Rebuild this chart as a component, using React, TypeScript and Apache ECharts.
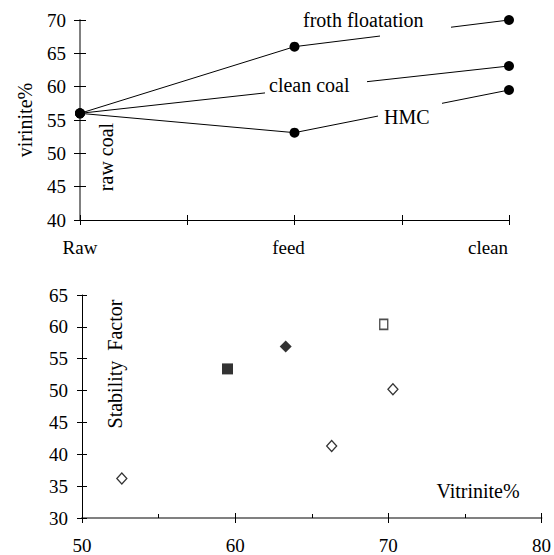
import React, { useEffect, useRef } from "react";
import * as echarts from "echarts";

// ---- Top chart data ----
const stageLabels = ["Raw", "feed", "clean"];
const stagePositions = [0, 1, 2];
const frothValues = [56, 66, 70];
const hmcValues = [56, 53.1, 59.5];
const cleanCoalStages = [0, 2];
const cleanCoalValues = [56, 63.1];
const topYTicks = [40, 70, 5]; // min, max, interval

// ---- Bottom chart data ----
const openDiamondX = [52.6, 66.3, 70.3];
const openDiamondY = [36.2, 41.3, 50.2];
const filledSquareX = [59.5];
const filledSquareY = [53.4];
const filledDiamondX = [63.3];
const filledDiamondY = [56.9];
const openSquareX = [69.7];
const openSquareY = [60.4];

const FONT = "'Liberation Serif', 'Times New Roman', serif";

const pairs = (xs: number[], ys: number[]) => xs.map((x, i) => [x, ys[i]]);

export default function App() {
  const ref = useRef<HTMLDivElement>(null);
  useEffect(() => {
    if (!ref.current) return;
    const chart = echarts.init(ref.current, null, { renderer: "svg" });
    const labelStyle = { color: "#000", fontFamily: FONT, fontSize: 19 };
    const textStyle = { fontFamily: FONT, fontSize: 20, fill: "#000" };
    const option: any = {
      animation: false,
      backgroundColor: "#fff",
      textStyle: { fontFamily: FONT, color: "#000" },
      grid: [
        { left: 80, top: 20, width: 429, height: 200 },
        { left: 82, top: 295, width: 461, height: 223 },
      ],
      xAxis: [
        {
          gridIndex: 0, type: "value", position: "bottom", min: 0, max: 2, interval: 0.5,
          axisLine: { lineStyle: { color: "#000", width: 1 } },
          axisTick: { length: 5, lineStyle: { color: "#000" } },
          splitLine: { show: false },
          axisLabel: {
            ...labelStyle, margin: 18,
            formatter: (v: number) => {
              const i = stagePositions.indexOf(v);
              if (i < 0) return "";
              return "{s" + i + "|" + stageLabels[i] + "}";
            },
            rich: {
              s0: { ...labelStyle },
              s1: { ...labelStyle, padding: [0, 12, 0, 0] },
              s2: { ...labelStyle, padding: [0, 42, 0, 0] },
            },
          },
        },
        {
          gridIndex: 0, type: "value", position: "bottom", min: 0, max: 2, interval: 0.5,
          axisLine: { show: false },
          axisTick: { inside: true, length: 5, lineStyle: { color: "#000" } },
          splitLine: { show: false },
          axisLabel: { show: false },
        },
        {
          gridIndex: 1, type: "value", position: "bottom", min: 50, max: 80, interval: 10,
          axisLine: { lineStyle: { color: "#808080", width: 2 } },
          axisTick: { length: 5, lineStyle: { color: "#000" } },
          splitLine: { show: false },
          axisLabel: { ...labelStyle, margin: 18 },
        },
        {
          gridIndex: 1, type: "value", position: "bottom", min: 50, max: 80, interval: 10,
          axisLine: { show: false },
          axisTick: { inside: true, length: 5, lineStyle: { color: "#000" } },
          minorTick: { show: true, splitNumber: 2, length: 4, lineStyle: { color: "#000" } },
          splitLine: { show: false },
          axisLabel: { show: false },
        },
      ],
      yAxis: [
        {
          gridIndex: 0, type: "value", position: "left",
          min: topYTicks[0], max: topYTicks[1], interval: topYTicks[2],
          axisLine: { show: true, lineStyle: { color: "#808080", width: 2 } },
          axisTick: { show: true, length: 6, lineStyle: { color: "#000" } },
          splitLine: { show: false },
          axisLabel: { ...labelStyle, margin: 14 },
        },
        {
          gridIndex: 0, type: "value", position: "left",
          min: topYTicks[0], max: topYTicks[1], interval: topYTicks[2],
          axisLine: { show: false },
          axisTick: { show: true, inside: true, length: 6, lineStyle: { color: "#000" } },
          splitLine: { show: false },
          axisLabel: { show: false },
        },
        {
          gridIndex: 1, type: "value", position: "left", min: 30, max: 65, interval: 5,
          axisLine: { show: true, lineStyle: { color: "#000", width: 1 } },
          axisTick: { show: true, length: 5, lineStyle: { color: "#000" } },
          splitLine: { show: false },
          axisLabel: { ...labelStyle, margin: 14 },
        },
        {
          gridIndex: 1, type: "value", position: "left", min: 30, max: 65, interval: 5,
          axisLine: { show: false },
          axisTick: { show: true, inside: true, length: 5, lineStyle: { color: "#000" } },
          splitLine: { show: false },
          axisLabel: { show: false },
        },
      ],
      series: [
        {
          name: "froth floatation", type: "line", xAxisIndex: 0, yAxisIndex: 0,
          data: pairs(stagePositions, frothValues),
          symbol: "circle", symbolSize: 10,
          itemStyle: { color: "#000" }, lineStyle: { color: "#000", width: 1 },
        },
        {
          name: "clean coal", type: "line", xAxisIndex: 0, yAxisIndex: 0,
          data: pairs(cleanCoalStages, cleanCoalValues),
          symbol: "circle", symbolSize: 10,
          itemStyle: { color: "#000" }, lineStyle: { color: "#000", width: 1 },
        },
        {
          name: "HMC", type: "line", xAxisIndex: 0, yAxisIndex: 0,
          data: pairs(stagePositions, hmcValues),
          symbol: "circle", symbolSize: 10,
          itemStyle: { color: "#000" }, lineStyle: { color: "#000", width: 1 },
        },
        {
          type: "scatter", xAxisIndex: 2, yAxisIndex: 2,
          data: pairs(openDiamondX, openDiamondY),
          symbol: "diamond", symbolSize: [10, 11],
          itemStyle: { color: "#fff", borderColor: "#000", borderWidth: 1.3 },
        },
        {
          type: "scatter", xAxisIndex: 2, yAxisIndex: 2,
          data: pairs(filledSquareX, filledSquareY),
          symbol: "rect", symbolSize: [11, 11],
          itemStyle: { color: "#000" },
        },
        {
          type: "scatter", xAxisIndex: 2, yAxisIndex: 2,
          data: pairs(filledDiamondX, filledDiamondY),
          symbol: "diamond", symbolSize: [12, 12],
          itemStyle: { color: "#000" },
        },
        {
          type: "scatter", xAxisIndex: 2, yAxisIndex: 2,
          data: pairs(openSquareX, openSquareY),
          symbol: "rect", symbolSize: [8, 10],
          itemStyle: { color: "#fff", borderColor: "#222", borderWidth: 1.5 },
        },
      ],
      graphic: [
        // gaps in the lines behind the labels
        { type: "rect", z: 100, shape: { x: 380, y: 20, width: 71, height: 18 }, style: { fill: "#fff" } },
        { type: "rect", z: 100, shape: { x: 265, y: 78, width: 102, height: 18 }, style: { fill: "#fff" } },
        { type: "rect", z: 100, shape: { x: 378, y: 100, width: 64, height: 19 }, style: { fill: "#fff" } },
        { type: "text", z: 101, x: 303, y: 20, style: { ...textStyle, text: "froth floatation", textAlign: "left", textVerticalAlign: "middle" } },
        { type: "text", z: 101, x: 269, y: 85, style: { ...textStyle, text: "clean coal", textAlign: "left", textVerticalAlign: "middle" } },
        { type: "text", z: 101, x: 384, y: 117, style: { ...textStyle, text: "HMC", textAlign: "left", textVerticalAlign: "middle" } },
        { type: "text", z: 101, x: 25, y: 120, rotation: Math.PI / 2, style: { ...textStyle, text: "virinite%", textAlign: "center", textVerticalAlign: "middle" } },
        { type: "text", z: 101, x: 106, y: 157, rotation: Math.PI / 2, style: { ...textStyle, text: "raw coal", textAlign: "center", textVerticalAlign: "middle" } },
        { type: "text", z: 101, x: 115, y: 364, rotation: Math.PI / 2, style: { ...textStyle, text: "Stability  Factor", textAlign: "center", textVerticalAlign: "middle" } },
        { type: "text", z: 101, x: 478, y: 491, style: { ...textStyle, text: "Vitrinite%", textAlign: "center", textVerticalAlign: "middle" } },
      ],
    };
    chart.setOption(option);
    return () => chart.dispose();
  }, []);
  return (
    <div
      ref={ref}
      style={{ position: "fixed", left: 0, top: 0, width: 554, height: 555, background: "#fff" }}
    />
  );
}
